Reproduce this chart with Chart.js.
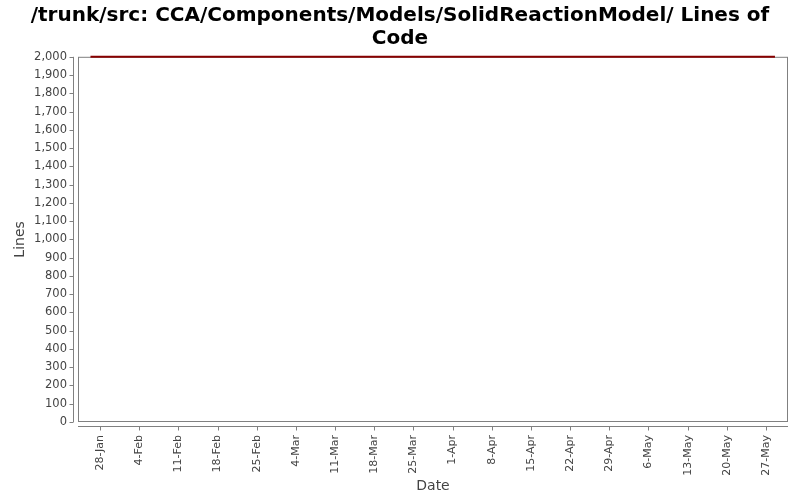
<!DOCTYPE html>
<html>
<head>
<meta charset="utf-8">
<script src="https://cdn.jsdelivr.net/npm/chart.js@4"></script>
<style>
  html, body { margin: 0; padding: 0; background: #fff; }
  #wrap { width: 800px; height: 500px; }
</style>
</head>
<body>
<div id="wrap"><canvas id="locChart"></canvas></div>
<script>
// Chart data (x = days after 28-Jan)
const titleLines = ['/trunk/src: CCA/Components/Models/SolidReactionModel/ Lines of', 'Code'];
const dateTickDays = [0, 7, 14, 21, 28, 35, 42, 49, 56, 63, 70, 77, 84, 91, 98, 105, 112, 119];
const dateTickLabels = ['28-Jan', '4-Feb', '11-Feb', '18-Feb', '25-Feb', '4-Mar', '11-Mar', '18-Mar',
  '25-Mar', '1-Apr', '8-Apr', '15-Apr', '22-Apr', '29-Apr', '6-May', '13-May', '20-May', '27-May'];
const lineDays = [-1.7, 120.6];
const lineValues = [2000, 2000];

const axisGray = '#808080';
const textGray = '#444444';

// Frame around the plot plus detached axis lines with their tick marks
const framePlugin = {
  id: 'frame',
  beforeDatasetsDraw(chart) {
    const { ctx, chartArea: a, scales } = chart;
    ctx.save();
    ctx.strokeStyle = axisGray;
    ctx.lineWidth = 1;
    ctx.strokeRect(a.left + 0.5, a.top + 0.5, a.right - a.left - 1, a.bottom - a.top - 1);

    // y axis line, 5px left of the plot
    const yx = a.left - 5 + 0.5;
    ctx.beginPath();
    ctx.moveTo(yx, a.top);
    ctx.lineTo(yx, a.bottom);
    scales.y.ticks.forEach(t => {
      const py = Math.round(scales.y.getPixelForValue(t.value)) + 0.5;
      ctx.moveTo(yx - 4, py);
      ctx.lineTo(yx, py);
    });
    // x axis line, 4px below the plot
    const xy = a.bottom + 4 + 0.5;
    ctx.moveTo(a.left, xy);
    ctx.lineTo(a.right, xy);
    dateTickDays.forEach(d => {
      const px = Math.round(scales.x.getPixelForValue(d)) + 0.5;
      ctx.moveTo(px, xy);
      ctx.lineTo(px, xy + 4);
    });
    ctx.stroke();
    ctx.restore();
  }
};

new Chart(document.getElementById('locChart'), {
  type: 'line',
  data: {
    datasets: [{
      data: lineDays.map((d, i) => ({ x: d, y: lineValues[i] })),
      borderColor: '#880000',
      borderWidth: 2,
      pointRadius: 0,
      tension: 0,
      clip: false
    }]
  },
  options: {
    responsive: true,
    maintainAspectRatio: false,
    animation: false,
    layout: { padding: { left: 12, right: 12, top: 5, bottom: 0 } },
    plugins: {
      legend: { display: false },
      tooltip: { enabled: false },
      title: {
        display: true,
        text: titleLines,
        color: '#000',
        font: { family: 'DejaVu Sans', size: 20, weight: 'bold', lineHeight: 1.12 },
        padding: { top: 0, bottom: 7 }
      }
    },
    scales: {
      x: {
        type: 'linear',
        min: -3.93,
        max: 122.93,
        grid: { display: false, drawTicks: false },
        border: { display: false },
        afterBuildTicks(scale) {
          scale.ticks = dateTickDays.map(v => ({ value: v }));
        },
        afterFit(scale) { scale.height = 78; },
        ticks: {
          autoSkip: false,
          minRotation: 90,
          maxRotation: 90,
          padding: 13,
          color: textGray,
          font: { family: 'DejaVu Sans', size: 11 },
          callback: (v) => dateTickLabels[dateTickDays.indexOf(v)]
        },
        title: {
          display: true,
          text: 'Date',
          color: textGray,
          font: { family: 'DejaVu Sans', size: 14 },
          padding: { top: 0, bottom: 5 }
        }
      },
      y: {
        min: 0,
        max: 2000,
        grid: { display: false, drawTicks: false },
        border: { display: false },
        afterFit(scale) { scale.width = 66; },
        ticks: {
          stepSize: 100,
          padding: 11,
          color: textGray,
          font: { family: 'DejaVu Sans', size: 11.5 },
          callback: (v) => v.toLocaleString('en-US')
        },
        title: {
          display: true,
          text: 'Lines',
          color: textGray,
          font: { family: 'DejaVu Sans', size: 14 },
          padding: { top: 0, bottom: 0 }
        }
      }
    }
  },
  plugins: [framePlugin]
});
</script>
</body>
</html>
